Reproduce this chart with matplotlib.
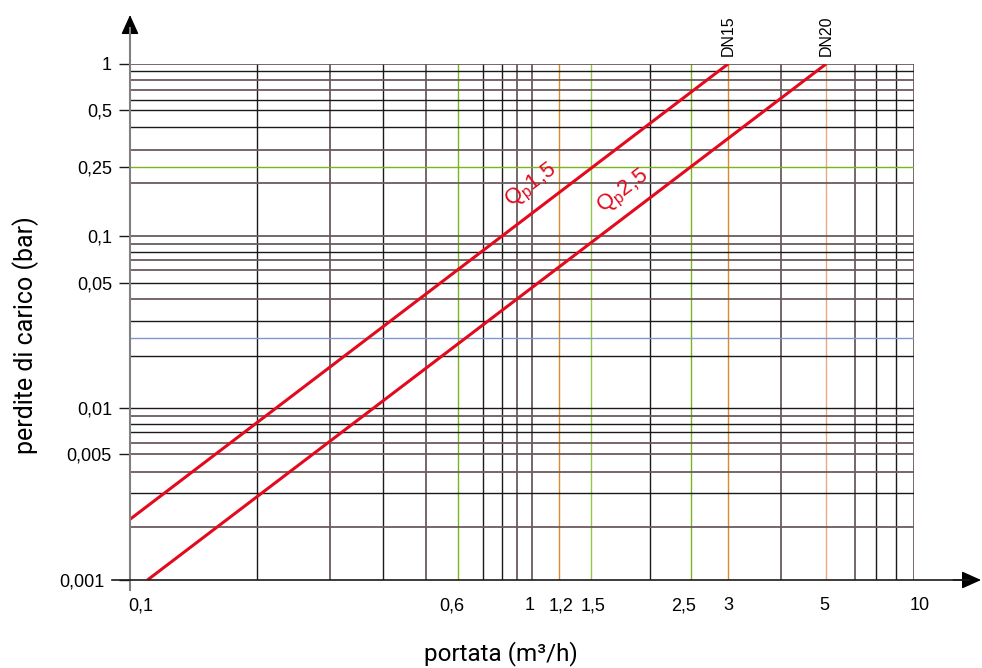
import numpy as np
import matplotlib
matplotlib.use("Agg")
import matplotlib.pyplot as plt
from matplotlib.transforms import ScaledTranslation

# ------------------------------------------------------------------
# dati
# ------------------------------------------------------------------
# curve perdite di carico: (portata, perdita) agli estremi
qp15_q = [0.1, 3.0]
qp15_dp = [0.0022, 1.0]
qp25_q = [0.11, 5.0]
qp25_dp = [0.001, 1.0]

x_ticks = [0.1, 0.6, 1, 1.2, 1.5, 2.5, 3, 5, 10]
x_labels = ['0,1', '0,6', '1', '1,2', '1,5', '2,5', '3', '5', '10']
y_ticks = [0.001, 0.005, 0.01, 0.05, 0.1, 0.25, 0.5, 1]
y_labels = ['0,001', '0,005', '0,01', '0,05', '0,1', '0,25', '0,5', '1']

x_grid = [0.2, 0.3, 0.4, 0.5, 0.6, 0.7, 0.8, 0.9, 1, 1.2, 1.5, 2, 2.5, 3,
          4, 5, 6, 7, 8, 10]
y_grid = [0.002, 0.003, 0.004, 0.005, 0.006, 0.007, 0.008, 0.009, 0.01,
          0.02, 0.025, 0.03, 0.04, 0.05, 0.06, 0.07, 0.08, 0.09, 0.1,
          0.2, 0.25, 0.3, 0.4, 0.5, 0.6, 0.7, 0.8, 0.9, 1]

dn_sizes = ['DN15', 'DN20']
dn_q = [3, 5]

# ------------------------------------------------------------------
# stile
# ------------------------------------------------------------------
BLK = '#1a1a1a'
BRN = '#6b5b5f'
GRN = '#7ab51d'
LGR = '#93c94a'
ORG = '#d98a2b'
TAN = '#e9a97c'
BLU = '#8096cc'
RED = '#e30a1e'

x_grid_col = [BLK, BRN, BLK, BRN, GRN, BLK, BLK, BRN, BRN, ORG, LGR, BLK,
              GRN, ORG, BRN, TAN, BRN, BLK, BLK, BRN]
y_grid_col = [BRN, BLK, BRN, BRN, BRN, BLK, BLK, BRN, BLK, BLK, BLU, BLK,
              BRN, BLK, BRN, BRN, BLK, BRN, BRN, BRN, GRN, BRN, BLK, BLK,
              BLK, BRN, BRN, BLK, BRN]

# la scala del disegno originale e' un log "a mano": nodi della scala
x_knot_v = [0.1, 0.2, 0.3, 0.4, 0.5, 0.6, 0.7, 0.8, 0.9, 1, 1.2, 1.5, 2,
            2.5, 3, 4, 5, 6, 7, 8, 10]
x_knot_p = [130, 257, 330, 383, 426, 458, 483, 502, 517, 532, 559, 591,
            650, 691, 728, 781, 826, 855, 876, 896, 914]
y_knot_v = [0.001, 0.002, 0.003, 0.004, 0.005, 0.006, 0.007, 0.008, 0.009,
            0.01, 0.02, 0.025, 0.03, 0.04, 0.05, 0.06, 0.07, 0.08, 0.09,
            0.1, 0.2, 0.25, 0.3, 0.4, 0.5, 0.6, 0.7, 0.8, 0.9, 1]
y_knot_p = [580, 527.3, 493.3, 471.7, 454.3, 443.3, 432.3, 424.3, 416.3,
            408.3, 355.7, 337.7, 320.7, 298.7, 283.3, 270.3, 260.3, 252,
            243.5, 235.7, 182.7, 167.2, 150.2, 126.5, 110.2, 100.2, 90, 80,
            71.3, 64]


def _interp_ext(v, xp, fp):
    out = np.interp(v, xp, fp)
    s0 = (fp[1] - fp[0]) / (xp[1] - xp[0])
    s1 = (fp[-1] - fp[-2]) / (xp[-1] - xp[-2])
    out = np.where(v < xp[0], fp[0] + (v - xp[0]) * s0, out)
    out = np.where(v > xp[-1], fp[-1] + (v - xp[-1]) * s1, out)
    return out


def warp(vals, pix):
    lv = np.log10(np.asarray(vals, float))
    p = np.asarray(pix, float)

    def fwd(x):
        x = np.clip(np.asarray(x, float), 1e-12, None)
        return _interp_ext(np.log10(x), lv, p)

    def inv(u):
        return 10 ** _interp_ext(np.asarray(u, float), p, lv)
    return fwd, inv


W, H = 982, 668
fig = plt.figure(figsize=(W / 100, H / 100), dpi=100)
x0, x1, y0, y1 = 130, 914, 64, 580
ax = fig.add_axes([x0 / W, (H - y1) / H, (x1 - x0) / W, (y1 - y0) / H])

ax.set_xscale('function', functions=warp(x_knot_v, x_knot_p))
ax.set_yscale('function', functions=warp(y_knot_v, [H - p for p in y_knot_p]))
ax.set_xlim(0.1, 10)
ax.set_ylim(0.001, 1)
for s in ax.spines.values():
    s.set_visible(False)

# griglia
for v, c in zip(x_grid, x_grid_col):
    ax.axvline(v, color=c, lw=1.3 if c == BRN else 1.0, zorder=1)
for v, c in zip(y_grid, y_grid_col):
    ax.axhline(v, color=c, lw=1.3 if c == BRN else 1.0, zorder=1)

# curve
ax.plot(qp15_q, qp15_dp, color=RED, lw=2.2, zorder=3, solid_capstyle='butt')
ax.plot(qp25_q, qp25_dp, color=RED, lw=2.2, zorder=3, solid_capstyle='butt')
ax.text(1.0, 0.1915, r'Q$_\mathregular{p}$1,5', color=RED, fontsize=16,
        rotation=37, rotation_mode='anchor', ha='center', va='center',
        family='Liberation Sans', zorder=4)
ax.text(1.762, 0.177, r'Q$_\mathregular{p}$2,5', color=RED, fontsize=16,
        rotation=37, rotation_mode='anchor', ha='center', va='center',
        family='Liberation Sans', zorder=4)

for name, q in zip(dn_sizes, dn_q):
    ax.text(q, 1.016, name, transform=ax.get_xaxis_transform(), rotation=90,
            ha='center', va='bottom', fontsize=11.5, family='Liberation Sans')

# assi con frecce
ax.plot([0, 0], [-0.019, 1.07], color='#808080', lw=1.5,
        transform=ax.transAxes, clip_on=False, zorder=5)
ax.plot([-0.023, 1.07], [0, 0], color=BLK, lw=1.2,
        transform=ax.transAxes, clip_on=False, zorder=5)
head = dict(arrowstyle='-|>,head_length=0.6,head_width=0.27', color='black',
            lw=1, mutation_scale=20, shrinkA=0, shrinkB=0)
ax.annotate('', xy=(0, 1.095), xytext=(0, 1.05), xycoords='axes fraction',
            arrowprops=head, annotation_clip=False)
ax.annotate('', xy=(1.0855, 0), xytext=(1.05, 0), xycoords='axes fraction',
            arrowprops=head, annotation_clip=False)

# tick
ax.set_xticks(x_ticks, x_labels, family='Liberation Sans', fontsize=13)
ax.set_yticks(y_ticks, y_labels, family='Liberation Sans', fontsize=13)
ax.minorticks_off()
ax.tick_params(axis='x', length=0, pad=12.5)
ax.tick_params(axis='y', length=8, width=1, pad=5, color=BLK)
for t, v in zip(ax.yaxis.get_major_ticks(), y_ticks):
    if v == 0.25:
        t.tick1line.set_color(GRN)

x_lab_shift = {0.1: 11, 0.6: -6, 1: -2, 1.2: 2, 1.5: 2, 2.5: -7, 5: -2,
               10: 6}
for lab, v in zip(ax.get_xticklabels(), x_ticks):
    dx = x_lab_shift.get(v, 0)
    if dx:
        lab.set_transform(lab.get_transform()
                          + ScaledTranslation(dx / 100, 0, fig.dpi_scale_trans))
ylab0 = ax.get_yticklabels()[0]
ylab0.set_transform(ylab0.get_transform()
                    + ScaledTranslation(-7 / 100, 0, fig.dpi_scale_trans))

ax.set_xlabel('portata (m³/h)', family='Roboto', fontsize=17.5, va='center')
ax.xaxis.set_label_coords((501 - x0) / (x1 - x0), (y1 - 654) / (y1 - y0))
ax.set_ylabel('perdite di carico (bar)', family='Roboto', fontsize=18,
              va='center')
ax.yaxis.set_label_coords((26 - x0) / (x1 - x0), (y1 - 335) / (y1 - y0))

fig.savefig('out.png', dpi=100)
